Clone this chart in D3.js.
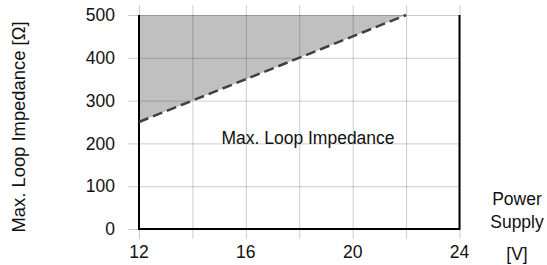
<!DOCTYPE html>
<meta charset="utf-8">
<head>
<style>
body { margin: 0; background: #fff; }
text { font-family: "Liberation Sans", Arial, sans-serif; fill: #111; }
</style>
</head>
<body>
<div id="chart"></div>
<script src="https://cdn.jsdelivr.net/npm/d3@7"></script>
<script>
  // data
  var voltage = [12, 22];          // power supply [V]
  var impedance = [250, 500];      // max loop impedance [Ω]
  var xTicks = [12, 16, 20, 24];
  var xGrid = [12, 14, 16, 18, 20, 22, 24];
  var yTicks = [0, 100, 200, 300, 400, 500];

  var width = 547, height = 265;
  var margin = {top: 15, right: 87.5, bottom: 36, left: 139};

  var svg = d3.select('#chart').append('svg')
      .attr('width', width)
      .attr('height', height);

  var x = d3.scaleLinear().domain([12, 24]).range([margin.left, width - margin.right]);
  var y = d3.scaleLinear().domain([0, 500]).range([height - margin.bottom, margin.top]);

  var pts = voltage.map(function (v, i) { return [v, impedance[i]]; });

  // shaded region above the limit line
  var area = d3.area()
      .x(function (d) { return x(d[0]); })
      .y0(function () { return y(500); })
      .y1(function (d) { return y(d[1]); });
  svg.append('path')
      .datum(pts)
      .attr('d', area)
      .attr('fill', '#c0c0c0');

  // grid
  svg.append('g')
      .attr('transform', 'translate(0,' + y(0) + ')')
      .call(d3.axisBottom(x).tickValues(xGrid).tickSize(-(y(0) - y(500)) - 10).tickFormat(''))
      .call(function (g) {
        g.select('.domain').remove();
        g.selectAll('line').attr('stroke', '#000').attr('stroke-opacity', 0.2)
          .attr('y1', 10);
      });
  svg.append('g')
      .attr('transform', 'translate(' + x(12) + ',0)')
      .call(d3.axisLeft(y).tickValues(yTicks).tickSize(-(x(24) - x(12))).tickFormat(''))
      .call(function (g) {
        g.select('.domain').remove();
        g.selectAll('line').attr('stroke', '#000').attr('stroke-opacity', 0.2)
          .attr('x1', -11);
      });

  // frame: left, bottom, right in black
  var frame = svg.append('g').attr('stroke', '#000').attr('stroke-width', 2).attr('fill', 'none');
  frame.append('path')
      .attr('d', 'M' + x(12) + ',' + y(500) + 'V' + y(0) + 'H' + x(24) + 'V' + y(500));

  // limit line
  svg.append('path')
      .datum(pts)
      .attr('d', d3.line().x(function (d) { return x(d[0]); }).y(function (d) { return y(d[1]); }))
      .attr('stroke', '#404040')
      .attr('stroke-width', 2.5)
      .attr('stroke-dasharray', '10,5')
      .attr('fill', 'none');

  // tick labels
  svg.append('g').selectAll('text')
      .data(xTicks).enter().append('text')
      .attr('x', function (d) { return x(d); })
      .attr('y', 258)
      .attr('text-anchor', 'middle')
      .style('font-size', '17.5px')
      .text(function (d) { return d; });

  svg.append('g').selectAll('text')
      .data(yTicks).enter().append('text')
      .attr('x', 115)
      .attr('y', function (d) { return y(d); })
      .attr('dy', '0.35em')
      .attr('text-anchor', 'end')
      .style('font-size', '17.5px')
      .text(function (d) { return d; });

  // labels
  svg.append('text')
      .attr('x', 308)
      .attr('y', y(200) + 1)
      .attr('text-anchor', 'middle')
      .style('font-size', '17.5px')
      .text('Max. Loop Impedance');

  svg.append('text')
      .attr('transform', 'translate(25,127) rotate(-90)')
      .attr('text-anchor', 'middle')
      .style('font-size', '18.4px')
      .text('Max. Loop Impedance [Ω]');

  var xl = svg.append('g').style('font-size', '17.5px').attr('text-anchor', 'middle');
  xl.append('text').attr('x', 517).attr('y', 205).text('Power');
  xl.append('text').attr('x', 517).attr('y', 228).text('Supply');
  xl.append('text').attr('x', 517).attr('y', 260).text('[V]');
</script>
</body>
